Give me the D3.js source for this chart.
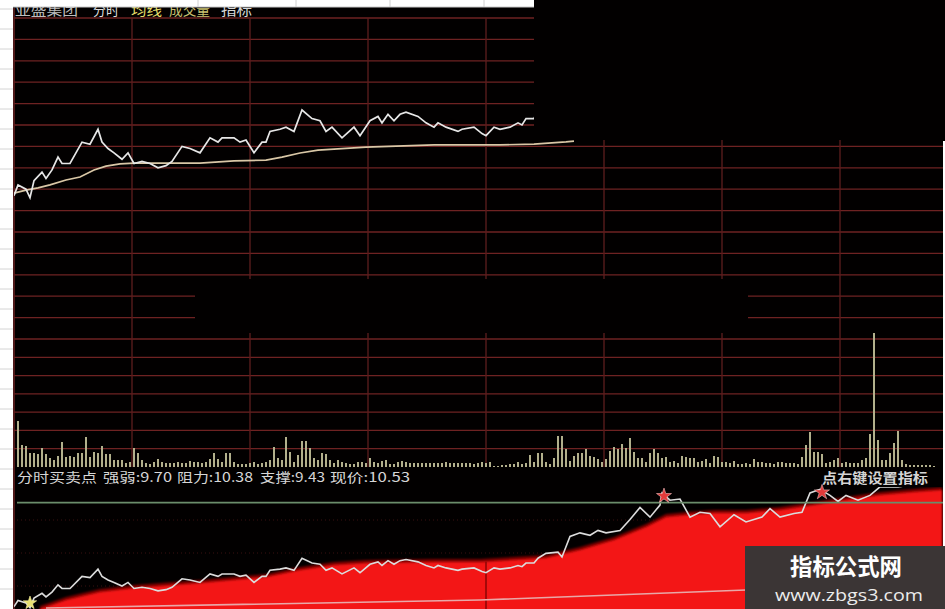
<!DOCTYPE html>
<html><head><meta charset="utf-8">
<script src="https://cdn.jsdelivr.net/npm/d3@7"></script>
<style>html,body{margin:0;padding:0;background:#000;overflow:hidden}svg{display:block}</style>
</head><body><svg id="c" width="945" height="609"></svg>
<script>
// ---------- data ----------
const titleItems = ["亚盛集团", "分时", "均线", "成交量", "指标"];
const indicatorTitle = "分时买卖点";
const indicatorNames = ["强弱", "阻力", "支撑", "现价"];
const indicatorValues = [9.70, 10.38, 9.43, 10.53];
const menuHint = "点右键设置指标";
const watermark = ["指标公式网", "www.zbgs3.com"];

// price (minute index, price)
const priceT = [-1,0,2,3,4,6,7,8.5,10,11,13,16,18,20,21,22.5,24,26,27.5,29,31,33,35,37,38.5,41,43,45.5,48,50,51,54,55.5,57,59,61,62,63,65.5,67,69,71,73.5,75.5,77,78.5,81,84,85.5,88,90,91,92.5,94,95.5,97,100,102,104,105,107,110,111,114,116,117,119,120.5,123,125,126,127,129,130,132,135,136,138,140.5,143,145,147,150.5,153,155.5,158,160.5,161,163,165.5,168,170.5,173,175.5,179,182,186,188,190.5,194,196,198,200.5,203,205,207,210,213,215.5,220,224,231];
const priceV = [9.52,9.57,9.55,9.51,9.59,9.63,9.60,9.64,9.70,9.67,9.67,9.77,9.76,9.83,9.77,9.74,9.72,9.69,9.72,9.67,9.68,9.67,9.65,9.66,9.68,9.75,9.74,9.72,9.79,9.77,9.79,9.79,9.77,9.78,9.72,9.77,9.77,9.82,9.83,9.84,9.82,9.92,9.88,9.87,9.82,9.84,9.79,9.84,9.80,9.87,9.89,9.86,9.90,9.87,9.90,9.91,9.89,9.86,9.84,9.86,9.84,9.82,9.83,9.84,9.81,9.80,9.84,9.83,9.84,9.86,9.85,9.88,9.88,9.92,9.96,9.97,9.93,10.10,10.13,10.11,10.15,10.13,10.15,10.24,10.34,10.26,10.36,10.46,10.40,10.41,10.26,10.30,10.29,10.18,10.28,10.22,10.26,10.33,10.26,10.29,10.30,10.46,10.49,10.44,10.39,10.44,10.40,10.44,10.51,10.51,10.53,10.53];

// average price line
const avgT = [-1,2,5,8,12,15.5,19,22,25.5,29,37,45.5,54,62,66,70.5,75,87,104,120.5,129,137,139];
const avgV = [9.532,9.546,9.556,9.570,9.593,9.607,9.640,9.658,9.668,9.672,9.672,9.672,9.682,9.686,9.700,9.719,9.733,9.747,9.757,9.757,9.761,9.771,9.775];

// volume per bar (hands)
const volume = [
4600,2200,2100,1400,1400,1300,1900,1300,900,700,
1100,2500,1000,1100,1000,1400,1400,3000,1000,1500,
1400,2100,1300,1300,700,700,700,400,500,1900,
1400,700,400,300,500,800,500,400,400,400,
500,400,400,600,500,500,400,500,800,1400,
800,500,1400,1400,500,300,300,300,400,500,
300,400,500,700,2000,900,700,3000,1500,500,
1200,2600,2600,1900,900,700,1400,1300,700,400,
700,500,400,300,300,500,500,400,900,500,
400,600,700,300,300,500,600,500,400,400,
400,400,400,400,400,400,400,500,400,400,
400,400,400,400,300,400,500,400,
500,100,100,200,200,300,300,500,300,400,
1200,500,1400,1400,500,300,900,3100,3100,1800,
600,1100,1400,1400,1800,1100,1000,800,500,800,
1600,2000,1800,2300,1900,2900,1500,900,900,500,
1400,1800,1400,900,1000,500,600,400,1100,1000,
900,900,500,600,800,400,1100,1000,500,500,
400,600,300,300,400,300,800,500,500,400,
400,300,500,500,400,400,400,300,1000,2200,
3500,1500,1500,1300,400,500,700,900,400,500,
400,400,400,700,900,3300,13400,2700,700,700,
1400,2400,3600,700,300,200,200,200,200,200,
200,100];

// indicator: red trend band and support line
const bandT = [5.5,7,12,20.5,29,45.5,62,70.5,79,87,104,115.5,132,140.5,149,157,162,167,174,182,190.5,199,207,215.5,224,231];
const bandV = [9.50,9.517,9.574,9.641,9.674,9.715,9.765,9.823,9.864,9.881,9.889,9.889,9.922,9.988,10.071,10.178,10.261,10.278,10.294,10.294,10.319,10.360,10.402,10.443,10.468,10.485];
const supportT = [7, 115.5, 182];
const supportV = [9.508, 9.574, 9.657];

// signals
const signalT = [3, 161, 200.5];
const signalType = ["buy", "sell", "sell"];

// ---------- scales ----------
const svg = d3.select("#c");
const W = 945, H = 609;
const x = d3.scaleLinear().domain([0, 240]).range([18, 978]);
const gridX = d3.scaleLinear().domain([0, 8]).range([14, 958]);
const yPrice = d3.scaleLinear().domain([8.85, 10.35]).range([339, 18]);
const yVol = d3.scaleLinear().domain([0, 12800]).range([467, 339]);
const yInd = d3.scaleLinear().domain([9.50, 10.65]).range([609, 470]);

const defs = svg.append("defs");
defs.append("clipPath").attr("id", "topClip").append("rect").attr("x", 14).attr("y", 18).attr("width", 931).attr("height", 321);
defs.append("clipPath").attr("id", "botClip").append("rect").attr("x", 14).attr("y", 487).attr("width", 931).attr("height", 122);
const f = defs.append("filter").attr("id", "soft").attr("x", "-5%").attr("y", "-20%").attr("width", "110%").attr("height", "140%");
f.append("feGaussianBlur").attr("stdDeviation", 1.3);
const f2 = defs.append("filter").attr("id", "soft2");
f2.append("feGaussianBlur").attr("stdDeviation", 0.45);

svg.append("rect").attr("width", W).attr("height", H).attr("fill", "#020000");

// ---------- grid ----------
const grid = svg.append("g").attr("filter", "url(#soft2)");
const priceRows = d3.range(16).map(k => 18 + k * 321 / 15);
const volRows = d3.range(1, 7).map(k => 339 + k * 128 / 7);
grid.selectAll(".hp").data(priceRows.concat(volRows)).join("line")
  .attr("x1", 14).attr("x2", W).attr("y1", d => d).attr("y2", d => d)
  .attr("stroke", "#6e2424").attr("stroke-width", 1.3);
grid.selectAll(".vg").data(d3.range(1, 8)).join("line")
  .attr("x1", d => gridX(d)).attr("x2", d => gridX(d)).attr("y1", 18).attr("y2", 467)
  .attr("stroke", "#5e1c1c").attr("stroke-width", 1.3);
grid.append("line").attr("x1", 14).attr("x2", 14).attr("y1", 8).attr("y2", H)
  .attr("stroke", "#6a2020").attr("stroke-width", 1.5);
// faint dotted rows in indicator panel
svg.selectAll(".dr").data(d3.range(3).map(k => 520 + 33 * k)).join("line")
  .attr("x1", 17).attr("x2", W).attr("y1", d => d).attr("y2", d => d)
  .attr("stroke", "#3a1010").attr("stroke-dasharray", "1,3");

// ---------- volume ----------
svg.append("g").selectAll("rect").data(volume).join("rect")
  .attr("x", (d, i) => x(i) - 1).attr("width", 2)
  .attr("y", d => yVol(d)).attr("height", d => 467 - yVol(d))
  .attr("fill", "#b2b08c");

// ---------- price panel lines ----------
const topG = svg.append("g").attr("clip-path", "url(#topClip)").attr("filter", "url(#soft2)");
const lineAvg = d3.line().x((d, i) => x(avgT[i])).y(d => yPrice(d));
topG.append("path").attr("d", lineAvg(avgV)).attr("fill", "none").attr("stroke", "#d9c7a6").attr("stroke-width", 1.7);
const linePriceTop = d3.line().x((d, i) => x(priceT[i])).y(d => yPrice(d));
topG.append("path").attr("d", linePriceTop(priceV)).attr("fill", "none").attr("stroke", "#e6e6e6").attr("stroke-width", 1.7);

// ---------- indicator panel ----------
const botG = svg.append("g").attr("clip-path", "url(#botClip)");
const bandArea = d3.area().x((d, i) => x(bandT[i])).y0(H + 5).y1(d => yInd(d));
defs.append("clipPath").attr("id", "bandClip").append("path").attr("d", bandArea(bandV));
botG.append("path").attr("d", bandArea(bandV)).attr("fill", "#7a0505").attr("transform", "translate(0,-3)").attr("filter", "url(#soft)");
botG.append("path").attr("d", bandArea(bandV)).attr("fill", "#f31512").attr("filter", "url(#soft)");
// midday divider visible through the band
botG.append("line").attr("x1", gridX(4)).attr("x2", gridX(4)).attr("y1", 470).attr("y2", H)
  .attr("clip-path", "url(#bandClip)").attr("stroke", "#8a0606").attr("stroke-width", 1.5);
const supLine = d3.line().x((d, i) => x(supportT[i])).y(d => yInd(d));
botG.append("path").attr("d", supLine(supportV)).attr("fill", "none").attr("stroke", "#e8a8a8").attr("stroke-width", 1.6);

// resistance line
svg.append("line").attr("x1", 17).attr("x2", 943)
  .attr("y1", yInd(indicatorValues[1])).attr("y2", yInd(indicatorValues[1]))
  .attr("stroke", "#6b8d6b").attr("stroke-width", 1.6);

const linePriceBot = d3.line().x((d, i) => x(priceT[i])).y(d => yInd(d));
botG.append("path").attr("d", linePriceBot(priceV)).attr("fill", "none").attr("stroke", "#dcdcdc").attr("stroke-width", 1.6).attr("filter", "url(#soft2)");

// signals
const priceAt = t => priceV[d3.bisectLeft(priceT, t)];
svg.append("g").selectAll("path").data(signalT).join("path")
  .attr("d", (d, i) => d3.symbol().type(d3.symbolStar).size(signalType[i] === "buy" ? 55 : 70)())
  .attr("transform", (d, i) => signalType[i] === "buy"
      ? `translate(${x(d)},${Math.min(yInd(priceAt(d)), 603)})`
      : `translate(${x(d) + 2},${yInd(priceAt(d)) + 3})`)
  .attr("fill", (d, i) => signalType[i] === "buy" ? "#e8e070" : "#e23a3a")
  .attr("stroke", (d, i) => signalType[i] === "buy" ? "#f8f0a0" : "#f0b8b8").attr("stroke-width", 0.6);

// ---------- texts ----------
const cjk = "'Noto Sans CJK SC','Noto Sans',sans-serif";
const label = svg.append("g").attr("font-family", cjk).attr("font-size", 13).attr("fill", "#d6d6d6");
const segs = [indicatorTitle].concat(indicatorNames.map((n, i) => `${n}:${indicatorValues[i].toFixed(2)}`));
const segX = [17, 103, 177, 260, 330], segW = [80, 69, 76, 65, 80];
label.selectAll("text").data(segs).join("text")
  .attr("x", (d, i) => segX[i]).attr("y", 482)
  .attr("textLength", (d, i) => segW[i]).attr("lengthAdjust", "spacingAndGlyphs").text(d => d);
svg.append("text").attr("x", 822).attr("y", 483).attr("font-family", cjk).attr("font-size", 14)
  .attr("font-weight", 600).attr("fill", "#d4d4d4")
  .attr("textLength", 106).attr("lengthAdjust", "spacingAndGlyphs").text(menuHint);

// title (partially hidden by the strip above)
const tX = [15, 93, 131, 169, 221], tW = [63, 26, 31, 41, 31];
const tC = ["#bdbdbd", "#dedede", "#e6de6a", "#c9c070", "#d8d8d8"];
svg.append("g").attr("font-family", cjk).attr("font-size", 14).selectAll("text").data(titleItems).join("text")
  .attr("x", (d, i) => tX[i]).attr("y", 15).attr("fill", (d, i) => tC[i])
  .attr("textLength", (d, i) => tW[i]).attr("lengthAdjust", "spacingAndGlyphs").text(d => d);

// ---------- occluders from the original screenshot ----------
svg.append("rect").attr("x", 534).attr("y", 0).attr("width", W - 534).attr("height", 140).attr("fill", "#020000");
svg.append("rect").attr("x", 195).attr("y", 279).attr("width", 553).attr("height", 54).attr("fill", "#020000");
// spreadsheet strips
svg.append("rect").attr("x", 0).attr("y", 0).attr("width", 534).attr("height", 7).attr("fill", "#ffffff");
svg.selectAll(".colL").data([198, 296, 390, 484]).join("line")
  .attr("x1", d => d).attr("x2", d => d).attr("y1", 0).attr("y2", 7).attr("stroke", "#d0d0d0");
svg.append("line").attr("x1", 0).attr("x2", 534).attr("y1", 7).attr("y2", 7).attr("stroke", "#c8c8c8");
svg.append("rect").attr("x", 0).attr("y", 0).attr("width", 13).attr("height", H).attr("fill", "#ffffff");
svg.selectAll(".rowL").data(d3.range(9, H, 20)).join("line")
  .attr("x1", 0).attr("x2", 13).attr("y1", d => d).attr("y2", d => d).attr("stroke", "#d4d4d4");
svg.append("rect").attr("x", 943).attr("y", 141).attr("width", 2).attr("height", H - 141).attr("fill", "#ffffff");

// watermark
svg.append("rect").attr("x", 745).attr("y", 546).attr("width", 200).attr("height", 63).attr("fill", "#3b3535");
svg.append("text").attr("x", 790).attr("y", 575).attr("font-family", cjk).attr("font-size", 23).attr("font-weight", 700)
  .attr("fill", "#ffffff").attr("textLength", 112).attr("lengthAdjust", "spacingAndGlyphs").text(watermark[0]);
svg.append("text").attr("x", 775).attr("y", 601).attr("font-family", "'Open Sans','DejaVu Sans',sans-serif").attr("font-size", 15.5)
  .attr("fill", "#ececec").attr("textLength", 148).attr("lengthAdjust", "spacingAndGlyphs").text(watermark[1]);
</script>
</body></html>
